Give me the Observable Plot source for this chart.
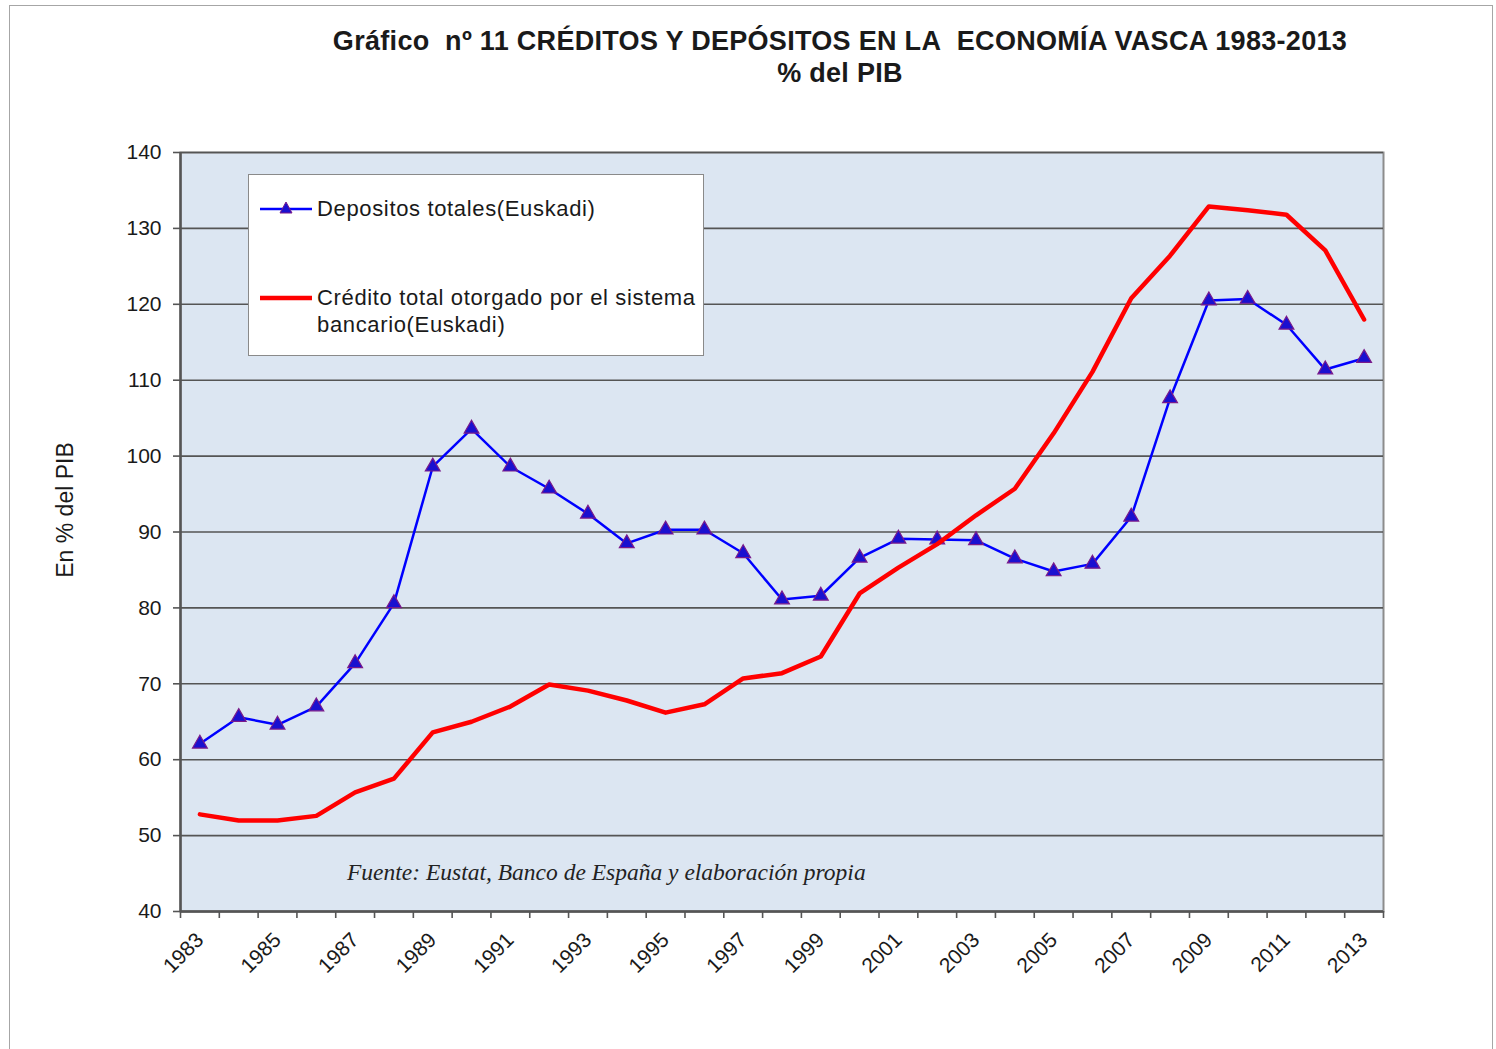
<!DOCTYPE html>
<html><head><meta charset="utf-8">
<script src="https://cdn.jsdelivr.net/npm/d3@7"></script>
<script src="https://cdn.jsdelivr.net/npm/@observablehq/plot@0.6"></script>
<style>
body{margin:0;background:#fff;font-family:"Liberation Sans",Arial,sans-serif;}
#wrap{position:relative;width:1496px;height:1049px;overflow:hidden;}
#border{position:absolute;left:9px;top:5px;width:1482px;height:1100px;border:1px solid #a6a6a6;}
#chart{position:absolute;left:0;top:0;}
#title{position:absolute;left:240px;width:1200px;top:25px;text-align:center;font-weight:bold;font-size:27px;letter-spacing:0.3px;line-height:32px;color:#1a1a1a;}
#ylab{position:absolute;left:65px;top:510px;transform:translate(-50%,-50%) rotate(-90deg);font-size:23px;color:#1a1a1a;white-space:nowrap;}
#legend{position:absolute;left:248px;top:174px;width:454px;height:180px;border:1px solid #8a8a8a;background:#fff;}
.lt{position:absolute;left:68px;font-size:22px;letter-spacing:0.65px;color:#1a1a1a;line-height:27px;white-space:nowrap;}
#source{position:absolute;left:347px;top:859px;font-family:"Liberation Serif","Times New Roman",serif;font-style:italic;font-size:23.5px;color:#222;white-space:nowrap;}
</style></head>
<body><div id="wrap">
<div id="border"></div>
<div id="chart"></div>
<div id="title">Gráfico&nbsp; nº 11 CRÉDITOS Y DEPÓSITOS EN LA&nbsp; ECONOMÍA VASCA 1983-2013<br>% del PIB</div>
<div id="ylab">En % del PIB</div>
<div id="legend">
  <svg width="70" height="180" style="position:absolute;left:0;top:0">
    <line x1="11" x2="63" y1="34" y2="34" stroke="#0000ff" stroke-width="2.5"/>
    <path d="M37,27 L43,38 L31,38 Z" fill="#1a10d0" stroke="#7a1a8a" stroke-width="1"/>
    <line x1="11" x2="63" y1="123" y2="123" stroke="#ff0000" stroke-width="4.5"/>
  </svg>
  <div class="lt" style="top:20px">Depositos totales(Euskadi)</div>
  <div class="lt" style="top:109px">Crédito total otorgado por el sistema<br>bancario(Euskadi)</div>
</div>
<div id="source">Fuente: Eustat, Banco de España y elaboración propia</div>
</div>
<script>
const years = [1983,1984,1985,1986,1987,1988,1989,1990,1991,1992,1993,1994,1995,1996,1997,1998,1999,2000,2001,2002,2003,2004,2005,2006,2007,2008,2009,2010,2011,2012,2013];
const depositos = [62.1,65.6,64.6,67.0,72.7,80.6,98.6,103.6,98.6,95.7,92.4,88.5,90.3,90.3,87.2,81.1,81.6,86.6,89.1,89.0,88.9,86.5,84.8,85.8,92.0,107.6,120.5,120.7,117.3,111.4,112.9];
const credito = [52.8,52.0,52.0,52.6,55.7,57.5,63.6,65.0,67.0,69.9,69.1,67.8,66.2,67.3,70.7,71.4,73.6,81.9,85.3,88.4,92.2,95.7,103.0,111.1,120.8,126.4,132.9,132.4,131.8,127.1,118.0];
const yTicks = [40,50,60,70,80,90,100,110,120,130,140];
const labelYears = [1983,1985,1987,1989,1991,1993,1995,1997,1999,2001,2003,2005,2007,2009,2011,2013];

const dep = years.map((y,i)=>({year:y, value:depositos[i]}));
const cre = years.map((y,i)=>({year:y, value:credito[i]}));
const bounds = years.map(y=>y-0.5).concat([years[years.length-1]+0.5]);

const chart = Plot.plot({
  width:1496, height:1049,
  marginLeft:180, marginRight:113, marginTop:152, marginBottom:138,
  x:{domain:[years[0]-0.5, years[years.length-1]+0.5]},
  y:{domain:[yTicks[0], yTicks[yTicks.length-1]]},
  style:{fontFamily:"Liberation Sans, Arial, sans-serif", fontSize:"21px", color:"#1a1a1a", background:"transparent", overflow:"visible"},
  marks:[
    Plot.frame({fill:"#dce6f2", stroke:"#8c8c8c", strokeWidth:2}),
    Plot.gridY({ticks:yTicks, stroke:"#555", strokeOpacity:1, strokeWidth:1.6}),
    Plot.axisY({ticks:yTicks, tickSize:7, tickPadding:12, stroke:"#555", strokeWidth:1.6, label:null, fill:"#1a1a1a"}),
    Plot.axisX({ticks:bounds, tickSize:7, tickFormat:()=>"", label:null, stroke:"#555", strokeWidth:1.6}),
    Plot.axisX({ticks:labelYears, tickSize:0, tickPadding:25, tickRotate:-45, tickFormat:d=>String(d), label:null, fill:"#1a1a1a"}),
    Plot.ruleX([years[0]-0.5], {stroke:"#555", strokeWidth:2.5}),
    Plot.ruleY([yTicks[0]], {stroke:"#555", strokeWidth:2.5}),
    Plot.line(dep, {x:"year", y:"value", stroke:"#0000ff", strokeWidth:2.5}),
    Plot.dot(dep, {x:"year", y:"value", symbol:"triangle", r:5.5, fill:"#1a10d0", stroke:"#7a1a8a", strokeWidth:1.2}),
    Plot.line(cre, {x:"year", y:"value", stroke:"#ff0000", strokeWidth:4.5})
  ]
});
document.getElementById("chart").appendChild(chart);
</script>
</body></html>
